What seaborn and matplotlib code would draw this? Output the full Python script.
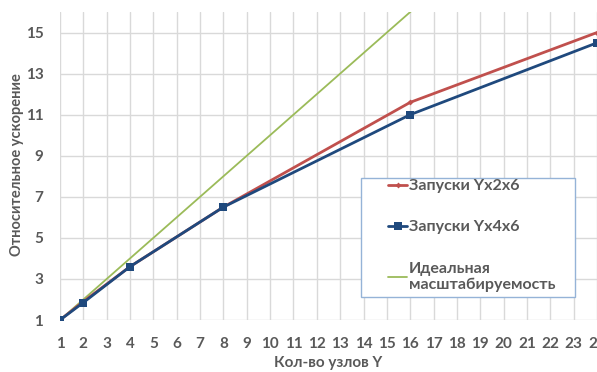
import matplotlib
matplotlib.use("Agg")
import matplotlib.pyplot as plt
from matplotlib.patches import Rectangle
import seaborn as sns
import pandas as pd

nodes = [1, 2, 4, 8, 16, 24]
runs_2x6 = [1.0, 1.9, 3.6, 6.5, 11.6, 15.0]
runs_4x6 = [1.0, 1.85, 3.6, 6.5, 11.0, 14.5]
ideal = [1, 2, 4, 8, 16, 24]

x_ticks = list(range(1, 25))
y_ticks = [1, 3, 5, 7, 9, 11, 13, 15]

labels = ["Запуски Yx2x6", "Запуски Yx4x6", "Идеальная\nмасштабируемость"]

sns.set_theme(style="white")
plt.rcParams["font.family"] = ["Lato", "DejaVu Sans"]

fig = plt.figure(figsize=(5.97, 3.72), dpi=100)
ax = fig.add_axes([60 / 597, 1 - 320 / 372, 537 / 597, 308 / 372])

df_a = pd.DataFrame({"x": nodes, "y": runs_2x6})
df_b = pd.DataFrame({"x": nodes, "y": runs_4x6})
df_c = pd.DataFrame({"x": nodes, "y": ideal})

sns.lineplot(data=df_a, x="x", y="y", ax=ax, color="#C0504D", linewidth=2,
             marker="D", markersize=3, markeredgewidth=0, label=labels[0], zorder=3)
sns.lineplot(data=df_b, x="x", y="y", ax=ax, color="#1F497D", linewidth=2,
             marker="s", markersize=6, markeredgewidth=0, label=labels[1], zorder=4)
sns.lineplot(data=df_c, x="x", y="y", ax=ax, color="#9BBB59", linewidth=1.3,
             label=labels[2], zorder=2)

ax.set_xlim(1, 24)
ax.set_ylim(1, 16)
ax.set_xticks(x_ticks)
ax.set_yticks(y_ticks)
ax.grid(True, axis="x", color="#D9D9D9", linewidth=1)
for yv in y_ticks:
    ax.axhline(yv, color="#D9D9D9", linewidth=1, zorder=0)
ax.grid(False, axis="y")
for s in ax.spines.values():
    s.set_visible(False)

ax.tick_params(axis="both", length=0, labelsize=11, colors="#595959")
ax.tick_params(axis="y", pad=12)
ax.tick_params(axis="x", pad=12)
for t in ax.get_xticklabels() + ax.get_yticklabels():
    t.set_fontweight("bold")

ax.set_xlabel("Кол-во узлов Y", fontsize=11, fontweight="bold", color="#595959")
ax.set_ylabel("Относительное ускорение", fontsize=10.5, fontweight="bold", color="#595959")
ax.xaxis.set_label_coords(0.5, -0.118)
ax.yaxis.set_label_coords(-0.067, 0.505)

# legend box drawn as its own frame, entries placed inside with extra left margin
frame = Rectangle((0.5605, 0.075), 0.3985, 0.386, transform=ax.transAxes,
                  facecolor="white", edgecolor="#95B3D7", linewidth=1, zorder=5)
ax.add_patch(frame)
leg = ax.legend(loc="upper left", bbox_to_anchor=(0.611, 0.458),
                frameon=False, handlelength=1.2, handletextpad=0.1,
                labelspacing=1.7, borderpad=0, borderaxespad=0,
                prop={"weight": "bold", "size": 11.5})
leg.set_zorder(6)
for t in leg.get_texts():
    t.set_color("#595959")
    t.set_fontweight("bold")

fig.savefig("out.png", dpi=100)
